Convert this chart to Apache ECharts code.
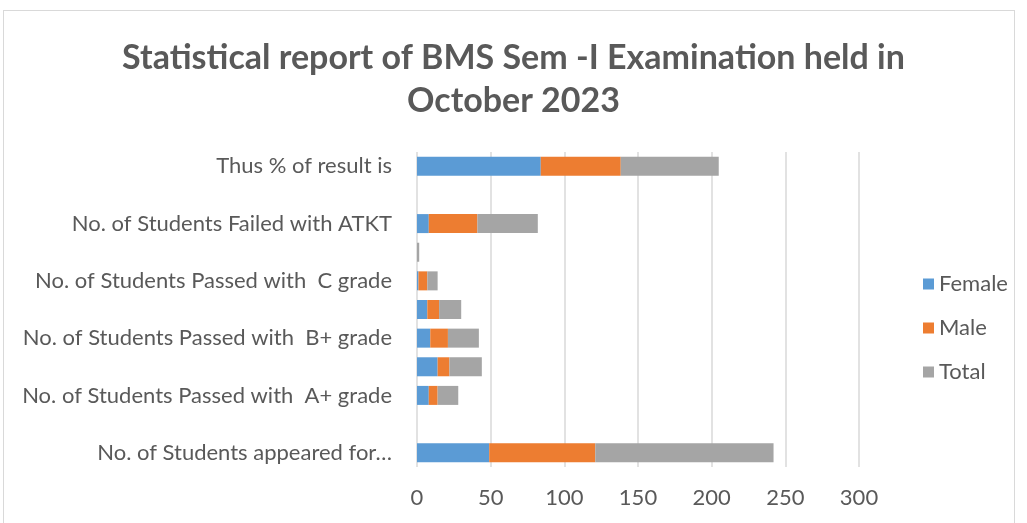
<!DOCTYPE html>
<html>
<head>
<meta charset="utf-8">
<script src="https://cdn.jsdelivr.net/npm/echarts@6/dist/echarts.min.js"></script>
<style>
  html, body { margin: 0; padding: 0; background: #fff; }
  #frame { position: absolute; left: 3px; top: 10px; width: 1012px; height: 520px; border: 1px solid #d9d9d9; box-sizing: border-box; }
  #chart { width: 1027px; height: 523px; position: absolute; left: 0; top: 0; }
</style>
</head>
<body>
<div id="frame"></div>
<div id="chart"></div>
<script>
// categories bottom -> top
var categories = [
  'No. of Students appeared for…',
  'No. of Students Passed with  O grade',
  'No. of Students Passed with  A+ grade',
  'No. of Students Passed with  A grade',
  'No. of Students Passed with  B+ grade',
  'No. of Students Passed with  B grade',
  'No. of Students Passed with  C grade',
  'No. of Students Passed with  D grade',
  'No. of Students Failed with ATKT',
  'No. of Students Failed',
  'Thus % of result is'
];
var female = [49, 0, 8, 14, 9, 7, 1, 0, 8, 0, 84];
var male = [72, 0, 6, 8, 12, 8, 6, 0, 33, 0, 54.3];
var total = [121, 0, 14, 22, 21, 15, 7, 1.5, 41, 0, 66.5];
var xTicks = [0, 50, 100, 150, 200, 250, 300];

var textColor = '#595959';
var font = 'Lato';

var chart = echarts.init(document.getElementById('chart'));

function barSeries(name, data, color) {
  return {
    name: name,
    type: 'bar',
    stack: 'all',
    barWidth: 19,
    data: data,
    itemStyle: { color: color },
    animation: false
  };
}

chart.setOption({
  title: {
    text: 'Statistical report of BMS Sem -I Examination held in\nOctober 2023',
    left: 'center',
    top: 32,
    textStyle: {
      color: textColor,
      fontFamily: font,
      fontWeight: 'bold',
      fontSize: 34,
      lineHeight: 43
    }
  },
  legend: {
    orient: 'vertical',
    left: 918,
    top: 266,
    itemGap: 18,
    itemWidth: 11,
    itemHeight: 11,
    icon: 'rect',
    textStyle: { color: textColor, fontFamily: font, fontSize: 22, lineHeight: 26 },
    data: ['Female', 'Male', 'Total']
  },
  grid: {
    left: 417,
    top: 152,
    width: 442,
    height: 315,
    containLabel: false
  },
  xAxis: {
    type: 'value',
    min: xTicks[0],
    max: xTicks[xTicks.length - 1],
    interval: 50,
    axisLine: { show: false },
    axisTick: { show: false },
    axisLabel: {
      color: textColor,
      fontFamily: font,
      fontSize: 22,
      margin: 20
    },
    splitLine: { lineStyle: { color: '#d9d9d9', width: 1.5 } }
  },
  yAxis: {
    type: 'category',
    data: categories,
    axisLine: { show: false },
    axisTick: { show: false },
    axisLabel: {
      interval: 1,
      color: textColor,
      fontFamily: font,
      fontSize: 22,
      margin: 25
    }
  },
  series: [
    barSeries('Female', female, '#5b9bd5'),
    barSeries('Male', male, '#ed7d31'),
    barSeries('Total', total, '#a5a5a5')
  ]
});
</script>
</body>
</html>
